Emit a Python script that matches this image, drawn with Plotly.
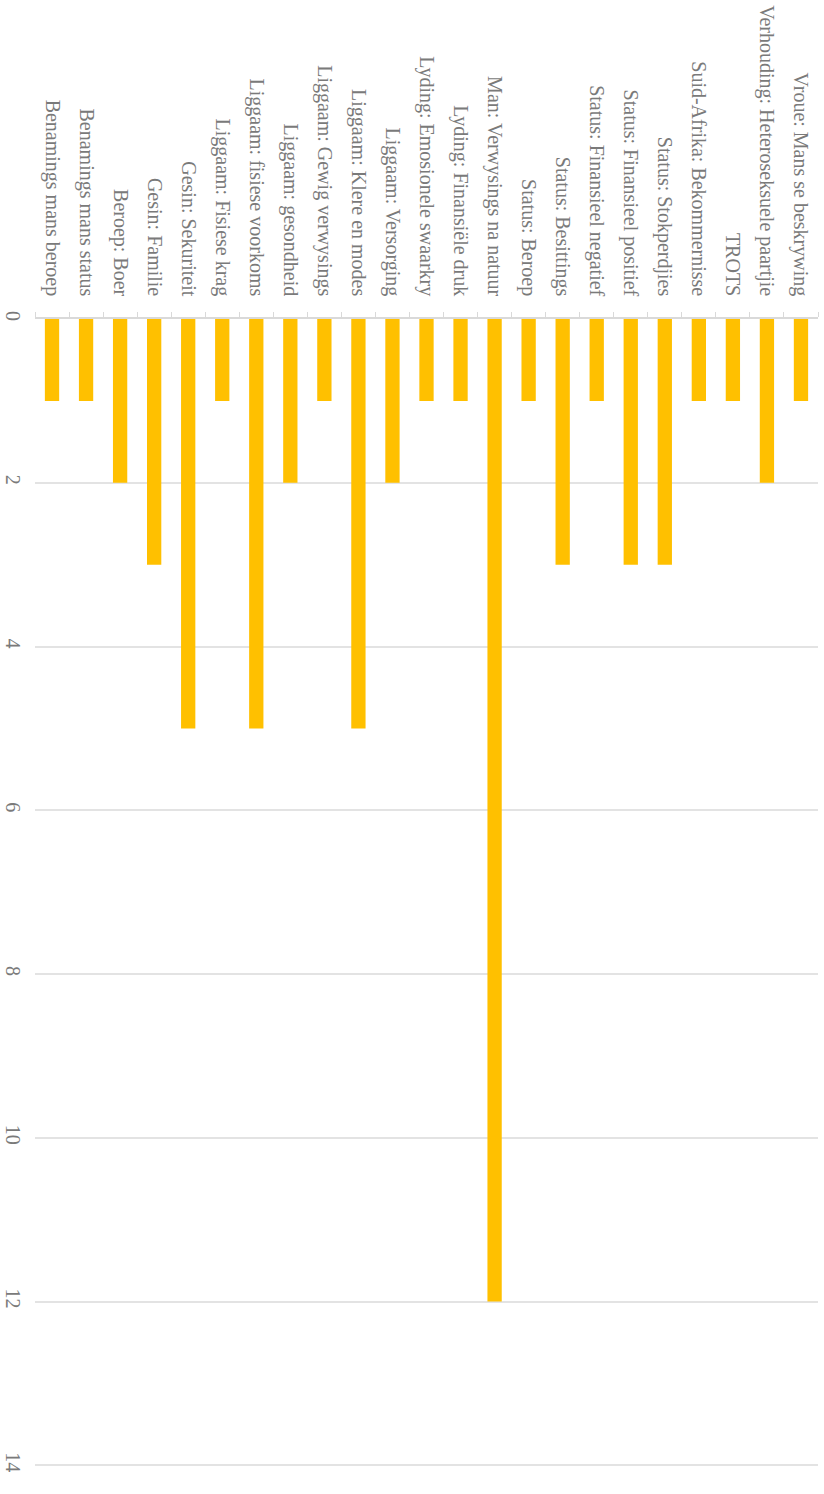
import plotly.graph_objects as go

categories = [
    "Benamings mans beroep", "Benamings mans status", "Beroep: Boer", "Gesin: Familie",
    "Gesin: Sekuriteit", "Liggaam: Fisiese krag", "Liggaam: fisiese voorkoms",
    "Liggaam: gesondheid", "Liggaam: Gewig verwysings", "Liggaam: Klere en modes",
    "Liggaam: Versorging", "Lyding: Emosionele swaarkry", "Lyding: Finansiële druk",
    "Man: Verwysings na natuur", "Status: Beroep", "Status: Besittings",
    "Status: Finansieel negatief", "Status: Finansieel positief", "Status: Stokperdjies",
    "Suid-Afrika: Bekommernisse", "TROTS", "Verhouding: Heteroseksuele paartjie",
    "Vroue: Mans se beskrywing",
]
values = [1, 1, 2, 3, 5, 1, 5, 2, 1, 5, 2, 1, 1, 12, 1, 3, 1, 3, 3, 1, 1, 2, 1]
y_ticks = [0, 2, 4, 6, 8, 10, 12, 14]

fig = go.Figure(go.Bar(x=categories, y=values, marker_color="#FFC000", marker_line_width=0))

font = dict(family="Liberation Serif, Times New Roman, serif", size=20, color="#7a7a7a")
fig.update_layout(
    width=824, height=1494,
    margin=dict(l=35, r=6, t=319, b=27),
    paper_bgcolor="white", plot_bgcolor="white",
    bargap=0.58,
    showlegend=False,
    font=font,
)
fig.update_xaxes(
    side="top", tickangle=90, type="category", automargin=False,
    showline=True, linecolor="#d9d9d9", linewidth=1.5,
    ticks="outside", tickson="boundaries", ticklen=5, tickcolor="#d9d9d9",
    showgrid=False, tickfont=font, ticklabelstandoff=14,
)
fig.update_yaxes(
    range=[14.02, 0], tickvals=y_ticks, tickangle=90, automargin=False,
    showgrid=True, gridcolor="#e3e3e3", gridwidth=1.5, zeroline=False,
    tickfont=font, ticklabelstandoff=8,
)
fig.write_html(
    "out.html",
    config={"displayModeBar": False},
    post_script="document.body.style.margin='0';",
)
